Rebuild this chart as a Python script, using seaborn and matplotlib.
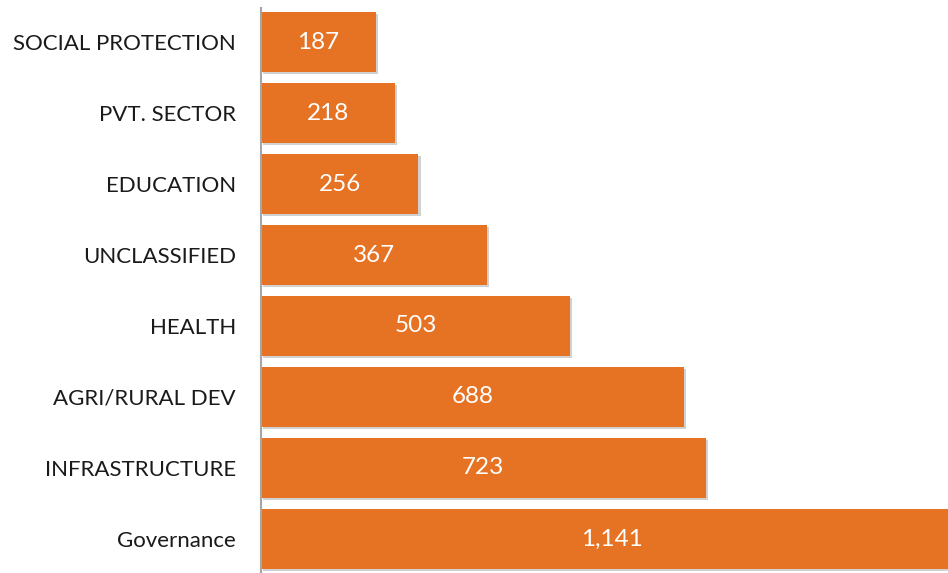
import matplotlib
matplotlib.use("Agg")
import matplotlib.pyplot as plt
import matplotlib.patheffects as pe
import seaborn as sns
import pandas as pd

sectors = ["SOCIAL PROTECTION", "PVT. SECTOR", "EDUCATION", "UNCLASSIFIED",
           "HEALTH", "AGRI/RURAL DEV", "INFRASTRUCTURE", "Governance"]
amounts = [187, 218, 256, 367, 503, 688, 723, 1141]

df = pd.DataFrame({"sector": sectors, "amount": amounts})

sns.set_style("white")
plt.rcParams["font.family"] = ["Lato", "DejaVu Sans"]

fig = plt.figure(figsize=(9.48, 5.73), dpi=100)
ax = fig.add_axes([261 / 948, 0.0, 1 - 261 / 948, 1 - 8 / 573])

bar_color = "#E67324"
sns.barplot(data=df, x="amount", y="sector", orient="h", color=bar_color,
            saturation=1, width=0.85, ax=ax)

shadow = [pe.SimplePatchShadow(offset=(1.5, -1.5), shadow_rgbFace="#000000", alpha=0.18),
          pe.Normal()]
for patch in ax.patches:
    patch.set_edgecolor("none")
    patch.set_path_effects(shadow)

for i, v in enumerate(amounts):
    ax.text(v / 2, i, f"{v:,}", ha="center", va="center", color="white", fontsize=17.5)

ax.set_xlim(0, 1117)
ax.set_ylim(7.48, -0.48)
ax.set_xlabel("")
ax.set_ylabel("")
ax.set_xticks([])
ax.tick_params(axis="y", length=0, pad=18, labelsize=16, labelcolor="#1a1a1a")
for s in ["top", "right", "bottom"]:
    ax.spines[s].set_visible(False)
ax.spines["left"].set_color("#A6A6A6")
ax.spines["left"].set_linewidth(1.5)

fig.savefig("out.png", dpi=100)
